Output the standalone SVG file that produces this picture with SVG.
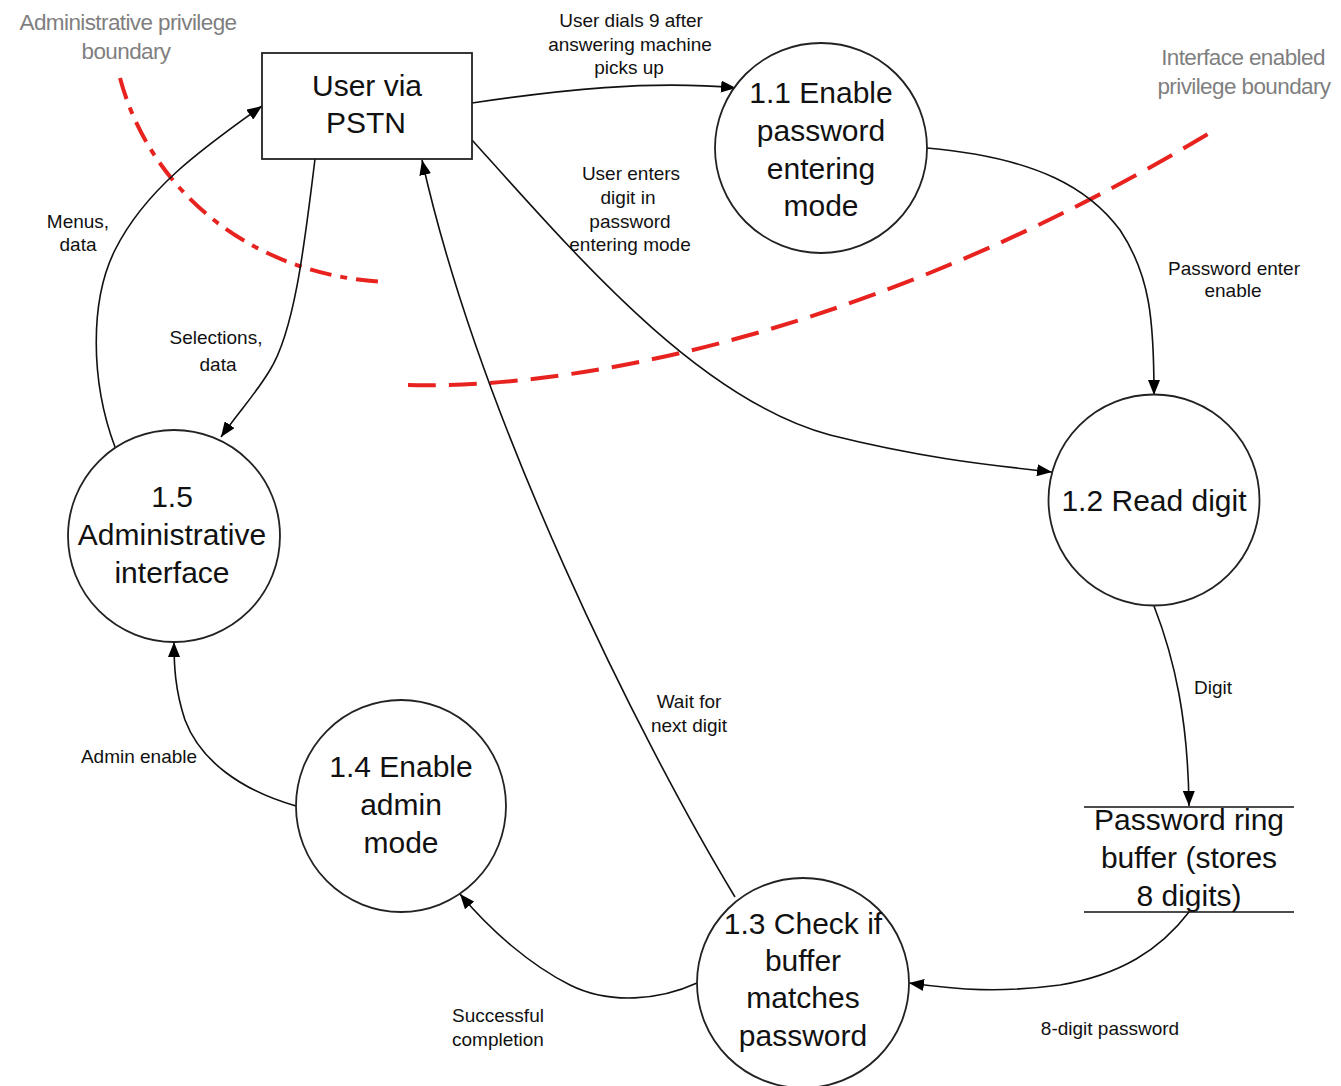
<svg xmlns="http://www.w3.org/2000/svg" width="1341" height="1086" viewBox="0 0 1341 1086">
<style>
.node{fill:#fff;stroke:#222;stroke-width:1.8}
.nt{font-family:"Liberation Sans",Arial,sans-serif;font-size:30px;fill:#111;text-anchor:middle}
.el{font-family:"Liberation Sans",Arial,sans-serif;font-size:19px;fill:#111;text-anchor:middle}
.bl{font-family:"Liberation Sans",Arial,sans-serif;font-size:22.5px;fill:#7f7f7f;text-anchor:middle;letter-spacing:-0.6px}
.edge{fill:none;stroke:#111;stroke-width:1.6;marker-end:url(#arr)}
.bound{fill:none;stroke:#e8231f;stroke-width:4}
</style>
<defs>
<marker id="arr" markerUnits="userSpaceOnUse" markerWidth="15" markerHeight="12" refX="15" refY="6" orient="auto">
<path d="M0,0 L15,6 L0,12 z" fill="#000"/>
</marker>
</defs>
<rect width="1341" height="1086" fill="#fff"/>

<g id="boundaries">
<path class="bound" d="M120,78 C150,190 250,275 385,282" stroke-dasharray="22 9 7 9"/>
<path class="bound" d="M408,385 C600,390 900,320 1218,128" stroke-dasharray="28 13"/>
<text class="bl" x="128" y="30">Administrative privilege</text>
<text class="bl" x="126" y="59">boundary</text>
<text class="bl" x="1243" y="65">Interface enabled</text>
<text class="bl" x="1244" y="94">privilege boundary</text>
</g>

<g id="connectors">
<path class="edge" d="M472,103 C560,90 650,80 736,88"/>
<path class="edge" d="M472,140 C580,260 700,400 830,435 C930,460 1000,466 1052,472"/>
<path class="edge" d="M927,148 C1040,158 1090,190 1120,230 C1150,275 1154,320 1154,395"/>
<path class="edge" d="M1154,606 C1175,660 1188,720 1189,806"/>
<path class="edge" d="M1189,912 C1160,950 1120,975 1060,985 C1000,993 960,990 909,983"/>
<path class="edge" d="M697,983 C660,1000 610,1005 570,985 C530,965 490,930 460,894"/>
<path class="edge" d="M735,897 C640,740 480,420 422,160"/>
<path class="edge" d="M315,159 C305,240 295,330 270,370 C255,395 240,410 221,437"/>
<path class="edge" d="M115,447 C90,380 90,300 115,250 C145,190 200,150 262,106"/>
<path class="edge" d="M296,806 C240,790 200,760 185,720 C175,690 174,665 174,642"/>
<text class="el" x="631" y="27">User dials 9 after</text>
<text class="el" x="630" y="51">answering machine</text>
<text class="el" x="629" y="74">picks up</text>
<text class="el" x="631" y="180">User enters</text>
<text class="el" x="628" y="204">digit in</text>
<text class="el" x="630" y="228">password</text>
<text class="el" x="630" y="251">entering mode</text>
<text class="el" x="1234" y="275">Password enter</text>
<text class="el" x="1233" y="297">enable</text>
<text class="el" x="78" y="228">Menus,</text>
<text class="el" x="78" y="251">data</text>
<text class="el" x="216" y="344">Selections,</text>
<text class="el" x="218" y="371">data</text>
<text class="el" x="1213" y="694">Digit</text>
<text class="el" x="689" y="708">Wait for</text>
<text class="el" x="689" y="732">next digit</text>
<text class="el" x="139" y="763">Admin enable</text>
<text class="el" x="498" y="1022">Successful</text>
<text class="el" x="498" y="1046">completion</text>
<text class="el" x="1110" y="1035">8-digit password</text>
</g>

<g id="user-pstn">
<rect class="node" x="262" y="53" width="210" height="106"/>
<text class="nt" x="367" y="96">User via</text>
<text class="nt" x="366" y="133">PSTN</text>
</g>

<g id="p1-1">
<ellipse class="node" cx="821" cy="148" rx="106" ry="105"/>
<text class="nt" x="821" y="103">1.1 Enable</text>
<text class="nt" x="821" y="141">password</text>
<text class="nt" x="821" y="179">entering</text>
<text class="nt" x="821" y="216">mode</text>
</g>

<g id="p1-2">
<ellipse class="node" cx="1154" cy="500" rx="105.5" ry="105.5"/>
<text class="nt" x="1154" y="511">1.2 Read digit</text>
</g>

<g id="store">
<line x1="1084" y1="807" x2="1294" y2="807" stroke="#111" stroke-width="1.6"/>
<line x1="1084" y1="912" x2="1294" y2="912" stroke="#111" stroke-width="1.6"/>
<text class="nt" x="1189" y="830">Password ring</text>
<text class="nt" x="1189" y="868">buffer (stores</text>
<text class="nt" x="1189" y="906">8 digits)</text>
</g>

<g id="p1-3">
<ellipse class="node" cx="803" cy="983" rx="106" ry="105"/>
<text class="nt" x="803" y="934">1.3 Check if</text>
<text class="nt" x="803" y="971">buffer</text>
<text class="nt" x="803" y="1008">matches</text>
<text class="nt" x="803" y="1046">password</text>
</g>

<g id="p1-4">
<ellipse class="node" cx="401" cy="806" rx="105" ry="106"/>
<text class="nt" x="401" y="777">1.4 Enable</text>
<text class="nt" x="401" y="815">admin</text>
<text class="nt" x="401" y="853">mode</text>
</g>

<g id="p1-5">
<ellipse class="node" cx="174" cy="536" rx="106" ry="106"/>
<text class="nt" x="172" y="507">1.5</text>
<text class="nt" x="172" y="545">Administrative</text>
<text class="nt" x="172" y="583">interface</text>
</g>
</svg>
